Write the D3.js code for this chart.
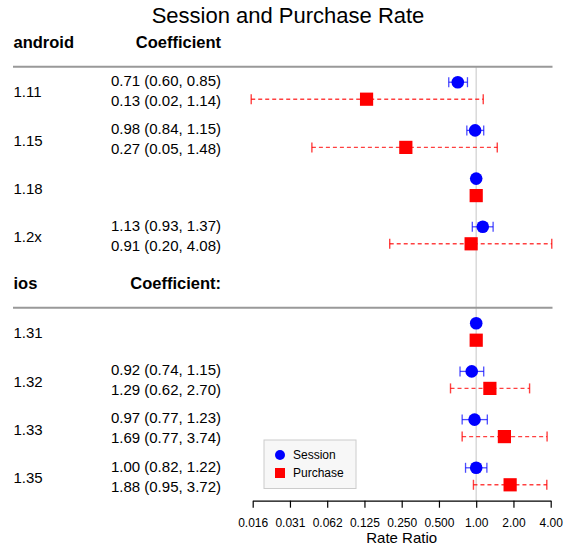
<!DOCTYPE html>
<html>
<head>
<meta charset="utf-8">
<script src="https://cdn.jsdelivr.net/npm/d3@7"></script>
<style>
  body { margin: 0; background: #fff; }
  svg { font-family: "Liberation Sans", Arial, Helvetica, sans-serif; }
</style>
</head>
<body>
<div id="chart"></div>
<script>
// Data
var groups = ["android", "ios"];
var groupHeaders = ["Coefficient", "Coefficient:"];
var versions = ["1.11", "1.15", "1.18", "1.2x", "1.31", "1.32", "1.33", "1.35"];
var versionGroup = ["android", "android", "android", "android", "ios", "ios", "ios", "ios"];

var sessionEst  = [0.71, 0.98, 1, 1.13, 1, 0.92, 0.97, 1.00];
var sessionLow  = [0.60, 0.84, null, 0.93, null, 0.74, 0.77, 0.82];
var sessionHigh = [0.85, 1.15, null, 1.37, null, 1.15, 1.23, 1.22];

var purchaseEst  = [0.13, 0.27, 1, 0.91, 1, 1.29, 1.69, 1.88];
var purchaseLow  = [0.0152, 0.047, null, 0.20, null, 0.62, 0.77, 0.95];
var purchaseHigh = [1.14, 1.48, null, 4.08, null, 2.70, 3.74, 3.72];

var tickValues = [0.015625, 0.03125, 0.0625, 0.125, 0.25, 0.5, 1, 2, 4];
var tickLabels = ["0.016", "0.031", "0.062", "0.125", "0.250", "0.500", "1.00", "2.00", "4.00"];

var seriesNames = ["Session", "Purchase"];
var sessionColor = "#0000ff";
var purchaseColor = "#ff0000";

// SVG setup
var svgWidth = 576;
var svgHeight = 548;

var svg = d3.select("#chart")
  .append("svg")
  .attr("width", svgWidth)
  .attr("height", svgHeight);

// Row layout: group header followed by its versions
var rows = [];
groups.forEach(function(g) {
  rows.push({ type: "header", group: g });
  versions.forEach(function(v, i) {
    if (versionGroup[i] === g) rows.push({ type: "row", index: i });
  });
});

var yRow = d3.scaleLinear()
  .domain([0, rows.length - 1])
  .range([42.5, 476.3]);

var xScale = d3.scaleLog()
  .base(2)
  .domain([0.015625, 4])
  .range([252.7, 550.7]);

var fmt = d3.format(".2f");
var leftX = 13.5;
var coefX = 221;
var lineRight = 552.5;
var axisY = 500.7;
var offset = 8.5;

// Title
svg.append("text")
  .attr("x", 288)
  .attr("y", 23)
  .attr("text-anchor", "middle")
  .attr("font-size", 22)
  .text("Session and Purchase Rate");

// Vertical reference line at 1
svg.append("line")
  .attr("x1", xScale(1)).attr("x2", xScale(1))
  .attr("y1", yRow(0) + 24).attr("y2", axisY)
  .attr("stroke", "#d9d9d9")
  .attr("stroke-width", 1.5);

rows.forEach(function(r, k) {
  var cy = yRow(k);
  if (r.type === "header") {
    var gi = groups.indexOf(r.group);
    svg.append("text")
      .attr("x", leftX).attr("y", cy)
      .attr("dy", "0.35em")
      .attr("font-size", 16.5)
      .attr("font-weight", "bold")
      .text(r.group);
    svg.append("text")
      .attr("x", coefX).attr("y", cy)
      .attr("dy", "0.35em")
      .attr("text-anchor", "end")
      .attr("font-size", 16.5)
      .attr("font-weight", "bold")
      .text(groupHeaders[gi]);
    svg.append("line")
      .attr("x1", 13).attr("x2", lineRight)
      .attr("y1", cy + 24.2).attr("y2", cy + 24.2)
      .attr("stroke", "#999")
      .attr("stroke-width", 2);
    return;
  }

  var i = r.index;
  svg.append("text")
    .attr("x", leftX).attr("y", cy)
    .attr("dy", "0.45em")
    .attr("font-size", 15)
    .text(versions[i]);

  if (sessionLow[i] !== null) {
    svg.append("text")
      .attr("x", coefX).attr("y", cy - 10)
      .attr("dy", "0.35em")
      .attr("text-anchor", "end")
      .attr("font-size", 15)
      .text(fmt(sessionEst[i]) + " (" + fmt(sessionLow[i]) + ", " + fmt(sessionHigh[i]) + ")");
    svg.append("text")
      .attr("x", coefX).attr("y", cy + 10)
      .attr("dy", "0.35em")
      .attr("text-anchor", "end")
      .attr("font-size", 15)
      .text(fmt(purchaseEst[i]) + " (" + fmt(purchaseLow[i]) + ", " + fmt(purchaseHigh[i]) + ")");
  }

  // Session interval
  var sy = cy - offset;
  if (sessionLow[i] !== null) {
    var sg = svg.append("g")
      .attr("stroke", sessionColor)
      .attr("stroke-opacity", 0.7)
      .attr("stroke-width", 1.3);
    sg.append("line")
      .attr("x1", xScale(sessionLow[i])).attr("x2", xScale(sessionHigh[i]))
      .attr("y1", sy).attr("y2", sy);
    [sessionLow[i], sessionHigh[i]].forEach(function(v) {
      sg.append("line")
        .attr("x1", xScale(v)).attr("x2", xScale(v))
        .attr("y1", sy - 5).attr("y2", sy + 5);
    });
  }
  svg.append("circle")
    .attr("cx", xScale(sessionEst[i]))
    .attr("cy", sy)
    .attr("r", 6.3)
    .attr("fill", sessionColor);

  // Purchase interval
  var py = cy + offset;
  if (purchaseLow[i] !== null) {
    var pg = svg.append("g")
      .attr("stroke", purchaseColor)
      .attr("stroke-opacity", 0.75)
      .attr("stroke-width", 1.4);
    pg.append("line")
      .attr("x1", xScale(purchaseLow[i])).attr("x2", xScale(purchaseHigh[i]))
      .attr("y1", py).attr("y2", py)
      .attr("stroke-dasharray", "4,3");
    [purchaseLow[i], purchaseHigh[i]].forEach(function(v) {
      pg.append("line")
        .attr("x1", xScale(v)).attr("x2", xScale(v))
        .attr("y1", py - 5).attr("y2", py + 5);
    });
  }
  svg.append("rect")
    .attr("x", xScale(purchaseEst[i]) - 6.6)
    .attr("y", py - 6.6)
    .attr("width", 13.2)
    .attr("height", 13.2)
    .attr("fill", purchaseColor);
});

// X axis
var bottomAxis = d3.axisBottom(xScale)
  .tickValues(tickValues)
  .tickFormat(function(d, i) { return tickLabels[i]; })
  .tickSize(7)
  .tickSizeOuter(0)
  .tickPadding(11);

var xAxis = svg.append("g")
  .attr("transform", "translate(0," + axisY + ")")
  .call(bottomAxis);

xAxis.select(".domain").attr("stroke", "#000").attr("stroke-width", 1.2);
xAxis.selectAll(".tick line").attr("stroke", "#000").attr("stroke-width", 1.2);
xAxis.selectAll("text")
  .attr("font-family", "Liberation Sans, Arial, sans-serif")
  .attr("font-size", 12)
  .attr("fill", "#000");

svg.append("text")
  .attr("x", (xScale.range()[0] + xScale.range()[1]) / 2)
  .attr("y", 543)
  .attr("text-anchor", "middle")
  .attr("font-size", 15)
  .text("Rate Ratio");

// Legend
var legend = svg.append("g")
  .attr("transform", "translate(264,440)");

legend.append("rect")
  .attr("width", 92)
  .attr("height", 48.5)
  .attr("fill", "#f7f7f7")
  .attr("stroke", "#cccccc");

legend.append("circle")
  .attr("cx", 16).attr("cy", 15)
  .attr("r", 5)
  .attr("fill", sessionColor);

legend.append("rect")
  .attr("x", 11).attr("y", 28)
  .attr("width", 10).attr("height", 10)
  .attr("fill", purchaseColor);

seriesNames.forEach(function(name, i) {
  legend.append("text")
    .attr("x", 29)
    .attr("y", 15 + i * 18)
    .attr("dy", "0.35em")
    .attr("font-size", 12)
    .text(name);
});
</script>
</body>
</html>
